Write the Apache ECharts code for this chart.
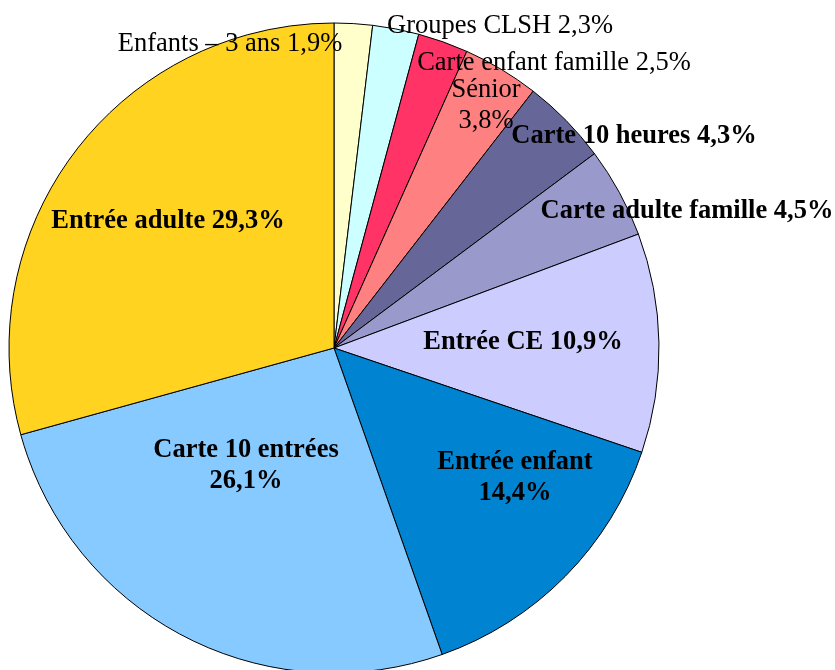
<!DOCTYPE html>
<html>
<head>
<meta charset="utf-8">
<script src="https://cdn.jsdelivr.net/npm/echarts@6/dist/echarts.min.js"></script>
<style>html,body{margin:0;padding:0;background:#fff}#c{width:835px;height:670px}</style>
</head>
<body>
<div id="c"></div>
<script>
// Data (percent shares, clockwise from 12 o'clock)
const categories = ['Enfants – 3 ans', 'Groupes CLSH', 'Carte enfant famille', 'Sénior', 'Carte 10 heures', 'Carte adulte famille', 'Entrée CE', 'Entrée enfant', 'Carte 10 entrées', 'Entrée adulte'];
const values = [1.9, 2.3, 2.5, 3.8, 4.3, 4.5, 10.9, 14.4, 26.1, 29.3];

// Styling / layout (kept separate from the data)
const colors = ['#FFFFCC', '#CCFFFF', '#FF3366', '#FF8080', '#666699', '#9999CC', '#CCCCFF', '#0084D1', '#87CAFF', '#FFD320'];
const boldLabel = [false, false, false, false, true, true, true, true, true, true];
const twoLine = [false, false, false, true, false, false, false, true, true, false];
const labelPos = [[230, 44], [500, 26], [554, 63], [486, 106], [634, 136], [687, 211], [523, 342], [515, 478], [246, 466], [168, 221]];

const fmt = v => v.toFixed(1).replace('.', ',') + '%';

const chart = echarts.init(document.getElementById('c'), null, {renderer: 'canvas'});
chart.setOption({
  animation: false,
  backgroundColor: '#fff',
  series: [{
    type: 'pie',
    center: [334, 348],
    radius: 325,
    startAngle: 90,
    clockwise: true,
    avoidLabelOverlap: false,
    minAngle: 0,
    itemStyle: {borderColor: '#000', borderWidth: 1},
    emphasis: {disabled: true},
    labelLine: {show: false},
    label: {
      show: true,
      position: 'inside',
      color: '#000',
      fontFamily: '"Liberation Serif", "Times New Roman", serif',
      fontSize: 26.5,
      lineHeight: 31,
      align: 'center'
    },
    labelLayout: function (p) {
      const pos = labelPos[p.dataIndex];
      return {x: pos[0], y: pos[1], align: 'center', verticalAlign: 'middle', hideOverlap: false};
    },
    data: categories.map((name, i) => ({
      name: name,
      value: values[i],
      itemStyle: {color: colors[i]},
      label: {
        fontWeight: boldLabel[i] ? 'bold' : 'normal',
        formatter: name + (twoLine[i] ? '\n' : ' ') + fmt(values[i])
      }
    }))
  }]
});
</script>
</body>
</html>
